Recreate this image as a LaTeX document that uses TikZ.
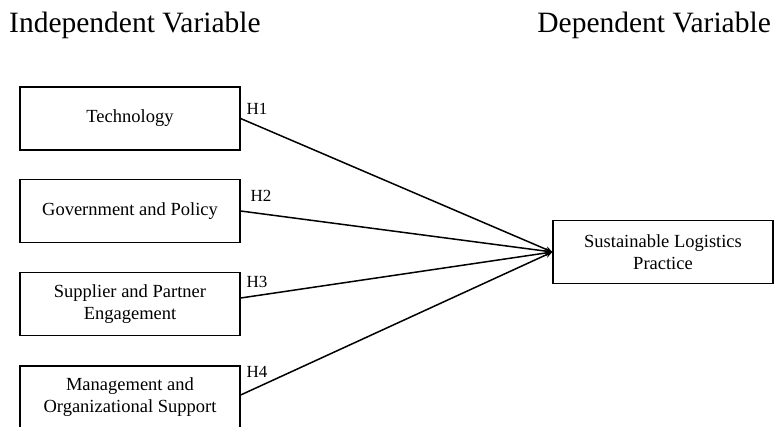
\documentclass[tikz,border=0pt]{standalone}
\usepackage{fontspec}
\setmainfont{Liberation Serif}
\usetikzlibrary{arrows.meta}
\begin{document}
\begin{tikzpicture}[x=1pt,y=-1pt,
  varbox/.style={draw=black,line width=1.3pt,minimum width=220pt,minimum height=63pt,inner sep=0pt,align=center,font=\fontsize{18.5}{21.5}\selectfont},
  title/.style={font=\fontsize{29.5}{32}\selectfont,inner sep=0pt},
  hlabel/.style={font=\fontsize{17}{19}\selectfont,inner sep=0pt},
  link/.style={line width=1.5pt,-{Stealth[length=7pt,width=6pt]}}]
\useasboundingbox (0,0) rectangle (774,426);
\node[title,anchor=base west] (ti) at (9,32) {Independent Variable};
\node[title,anchor=base east] (td) at (771,32) {Dependent Variable};
\node[varbox] (b1) at (130,118.5) {\raisebox{-2pt}{Technology}};
\node[varbox] (b2) at (130,211) {\raisebox{-1pt}{Government and Policy}};
\node[varbox] (b3) at (130,304) {Supplier and Partner\\Engagement};
\node[varbox,minimum height=62pt] (b4) at (130,397) {Management and\\Organizational Support};
\node[varbox] (dv) at (663,252) {Sustainable Logistics\\Practice};
\draw[link] (b1.east) -- (dv.west);
\draw[link] (b2.east) -- (dv.west);
\draw[link] ([yshift=6pt]b3.east) -- (dv.west);
\draw[link] ([yshift=2pt]b4.east) -- (dv.west);
\node[hlabel] (h1) at (257,109) {H1};
\node[hlabel] (h2) at (261,196) {H2};
\node[hlabel] (h3) at (257,282) {H3};
\node[hlabel] (h4) at (257,372) {H4};
\end{tikzpicture}
\end{document}
